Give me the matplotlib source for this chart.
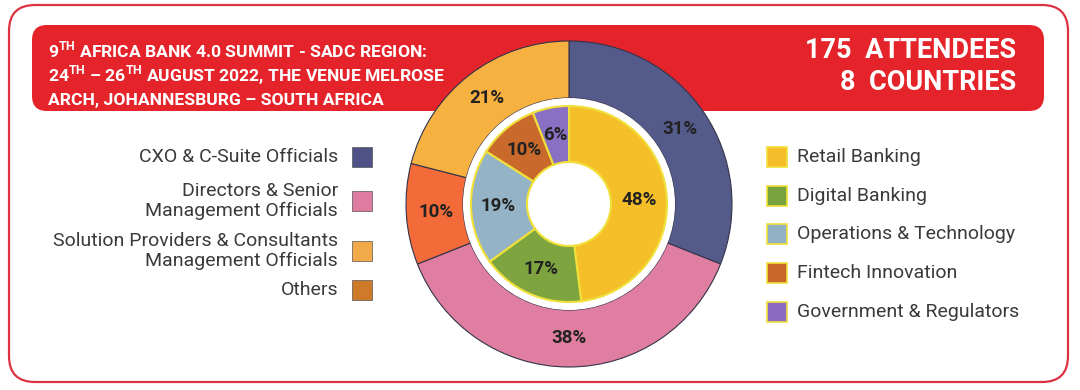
import matplotlib
matplotlib.use("Agg")
import matplotlib.pyplot as plt
from matplotlib.patches import FancyBboxPatch, Rectangle, Circle

# ---------------- data ----------------
outer_labels = ["CXO & C-Suite Officials", "Directors & Senior Management Officials",
                "Others", "Solution Providers & Consultants Management Officials"]
outer_values = [31, 38, 10, 21]
outer_colors = ["#545a8a", "#df7ea0", "#f26b38", "#f6b141"]

inner_labels = ["Retail Banking", "Digital Banking", "Operations & Technology",
                "Fintech Innovation", "Government & Regulators"]
inner_values = [48, 17, 19, 10, 6]
inner_colors = ["#f5bf2a", "#7da43f", "#95b3c6", "#c9692b", "#8a70c2"]

left_legend_labels = ["CXO & C-Suite Officials", "Directors & Senior\nManagement Officials",
                      "Solution Providers & Consultants\nManagement Officials", "Others"]
left_legend_colors = ["#4f5286", "#df7aa0", "#f2a94a", "#cf7a2a"]

right_legend_labels = inner_labels
right_legend_colors = ["#f6bd2a", "#78a23e", "#93b1c5", "#c8652a", "#8c6cc0"]

header_lines = [r"9$^{\mathbf{TH}}$ AFRICA BANK 4.0 SUMMIT - SADC REGION:",
                r"24$^{\mathbf{TH}}$ – 26$^{\mathbf{TH}}$ AUGUST 2022, THE VENUE MELROSE",
                "ARCH, JOHANNESBURG – SOUTH AFRICA"]
stats_lines = ["175  ATTENDEES", "8  COUNTRIES"]

# ---------------- fonts ----------------
plt.rcParams["font.family"] = ["Roboto", "DejaVu Sans"]
plt.rcParams["mathtext.fontset"] = "custom"
plt.rcParams["mathtext.bf"] = "Roboto:bold"
plt.rcParams["mathtext.rm"] = "Roboto:bold"

W, H = 1080, 390
fig = plt.figure(figsize=(W / 100, H / 100), dpi=100)
ax = fig.add_axes([0, 0, 1, 1])


def Y(py):
    return H - py


# outer rounded border
ax.add_patch(FancyBboxPatch((9, Y(382)), 1059, 377,
                            boxstyle="round,pad=0,rounding_size=26",
                            fc="white", ec="#dd3340", lw=1.6, zorder=0.1))
# red header
ax.add_patch(FancyBboxPatch((32, Y(111)), 1012, 86,
                            boxstyle="round,pad=0,rounding_size=15",
                            fc="#e5232a", ec="none", zorder=0.2))

# header texts
for i, line in enumerate(header_lines):
    ax.text(48, Y(50 + i * 25), line, color="white", fontsize=12.6,
            fontweight="bold", ha="left", va="center", zorder=5)
for i, line in enumerate(stats_lines):
    ax.text(1016, Y(51 + i * 32), line, color="white", fontsize=19.5,
            fontweight="bold", ha="right", va="center", zorder=5)

# donut charts
cx, cy = 569, Y(204)
R_out, R_gap, R_in, R_hole = 163, 106, 98, 42

fmt = lambda p: f"{p:.0f}%"
ax.pie(outer_values, colors=outer_colors, startangle=90, counterclock=False,
       radius=R_out, center=(cx, cy), autopct=fmt, pctdistance=0.82,
       wedgeprops=dict(width=R_out - R_gap, edgecolor="#33334a", linewidth=0.8, zorder=2),
       textprops=dict(fontsize=13.5, fontweight="bold", color="#222222", zorder=6))
ax.add_patch(Circle((cx, cy), R_gap, fc="white", ec="none", zorder=3))
ax.pie(inner_values, colors=inner_colors, startangle=90, counterclock=False,
       radius=R_in, center=(cx, cy), autopct=fmt, pctdistance=0.72,
       wedgeprops=dict(width=R_in - R_hole, edgecolor="#f0e03a", linewidth=1.5, zorder=4),
       textprops=dict(fontsize=13.5, fontweight="bold", color="#222222", zorder=6))

# left legend
left_y = [157, 201, 251, 290]
for lab, col, yy in zip(left_legend_labels, left_legend_colors, left_y):
    ax.add_patch(Rectangle((352, Y(yy + 10)), 20, 20, fc=col, ec="#555555",
                           lw=0.5, zorder=5))
    ax.text(338, Y(yy), lab, ha="right", va="center", fontsize=14,
            color="#3a3a3a", linespacing=1.1, multialignment="right", zorder=5)

# right legend
right_y = [157, 196, 234, 273, 312]
for lab, col, yy in zip(right_legend_labels, right_legend_colors, right_y):
    ax.add_patch(Rectangle((767, Y(yy + 10)), 20, 20, fc=col, ec="#f0e03a",
                           lw=1.2, zorder=5))
    ax.text(797, Y(yy), lab, ha="left", va="center", fontsize=14,
            color="#3a3a3a", zorder=5)

ax.set_xlim(0, W)
ax.set_ylim(0, H)
ax.set_aspect("equal")
ax.axis("off")

fig.savefig("out.png", dpi=100)
